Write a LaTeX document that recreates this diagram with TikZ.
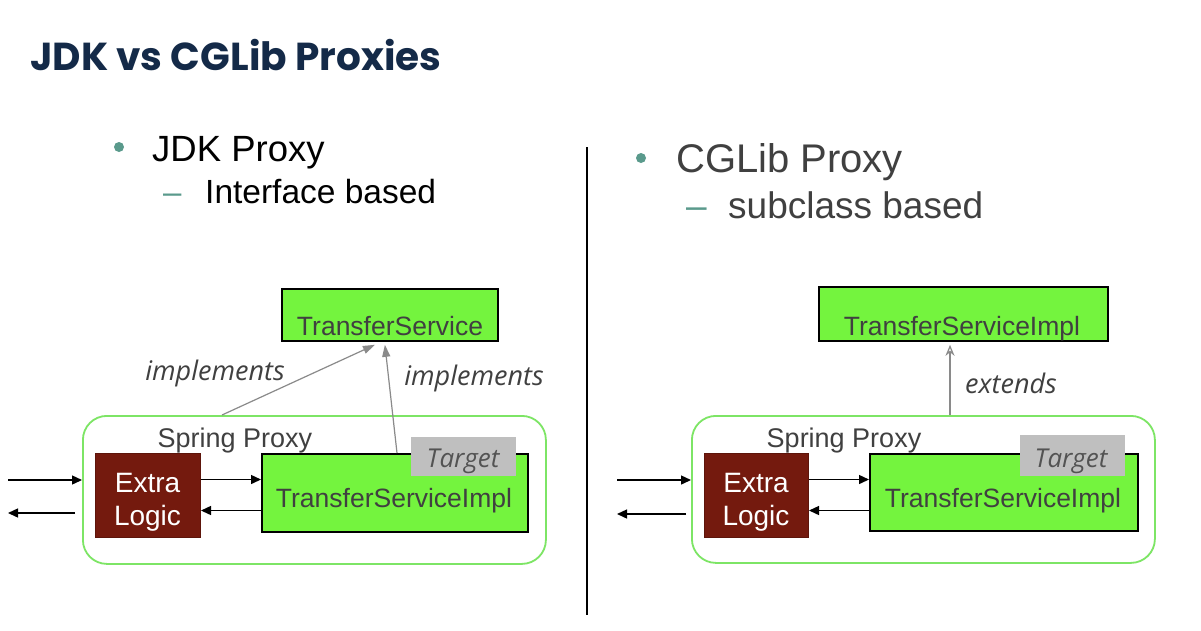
\documentclass[tikz,border=0pt]{standalone}
\usepackage{fontspec}
\setmainfont{Liberation Sans}
\newfontfamily\titlefont{Poppins}
\newfontfamily\labfont{Open Sans}
\usetikzlibrary{arrows.meta}
\definecolor{navy}{HTML}{142A48}
\definecolor{bteal}{HTML}{5A9A8C}
\definecolor{boxgreen}{HTML}{74F43E}
\definecolor{proxygreen}{HTML}{7DE565}
\definecolor{darkred}{HTML}{741A0E}
\definecolor{tgray}{HTML}{BFBFBF}
\definecolor{dtext}{HTML}{404040}
\definecolor{agray}{HTML}{8A8A8A}
\tikzset{
  gbox/.style={draw=black, line width=1.8pt, fill=boxgreen, inner sep=0, anchor=north west},
  proxybox/.style={draw=proxygreen, line width=1.8pt, rounded corners=24pt, inner sep=0, anchor=north west},
  elbox/.style={draw=darkred!80!black, line width=1pt, fill=darkred, inner sep=0, anchor=north west},
  eltext/.style={text=white, align=center, inner sep=0, font=\fontsize{28}{33}\selectfont},
  tbox/.style={fill=tgray, inner sep=0, anchor=north west},
  tlab/.style={font=\labfont\itshape\fontsize{26}{30}\selectfont, text=dtext!90!white, inner sep=0},
  dlab/.style={font=\fontsize{26.5}{30}\selectfont, text=dtext, inner sep=0, anchor=base},
  sptext/.style={font=\fontsize{27}{30}\selectfont, text=dtext, inner sep=0, anchor=base},
  rel/.style={font=\labfont\itshape\fontsize{27}{30}\selectfont, text=dtext, inner sep=0},
  blk/.style={draw=black, line width=1.4pt, -{Triangle[length=10pt,width=9pt]}},
  gry/.style={draw=agray, line width=1.2pt, -{Triangle[length=12pt,width=8pt]}},
  gryopen/.style={draw=agray, line width=1.2pt, -{Stealth[length=11pt,width=9pt,open]}},
  bul/.style={circle, fill=bteal, minimum size=10pt, inner sep=0},
}
\begin{document}
\begin{tikzpicture}[x=1pt,y=-1pt]
\useasboundingbox[fill=white] (0,0) rectangle (1201,630);

% title
\node[anchor=base west, font=\titlefont\bfseries\fontsize{39}{42}\selectfont, text=navy, inner sep=0] (title) at (30,70) {JDK vs CGLib Proxies};

% left bullets
\node[bul] (b1) at (119,147) {};
\node[anchor=base west, font=\fontsize{36.5}{40}\selectfont, text=black, inner sep=0] (jdk) at (152,161) {JDK Proxy};
\node[anchor=base west, font=\fontsize{33}{40}\selectfont, text=bteal, inner sep=0] (d1) at (163,203) {–};
\node[anchor=base west, font=\fontsize{33.5}{40}\selectfont, text=black, inner sep=0] (ib) at (205,203) {Interface based};

% right bullets
\node[bul] (b2) at (641,158) {};
\node[anchor=base west, font=\fontsize{40}{44}\selectfont, text=dtext, inner sep=0] (cg) at (676,172) {CGLib Proxy};
\node[anchor=base west, font=\fontsize{37}{40}\selectfont, text=bteal, inner sep=0] (d2) at (686,218) {–};
\node[anchor=base west, font=\fontsize{37}{40}\selectfont, text=dtext, inner sep=0] (sb) at (728,218) {subclass based};

% divider
\draw[black, line width=1.2pt] (587,147) -- (587,615);

% ===== left diagram =====
\node[gbox, minimum width=216pt, minimum height=52pt] (ts) at (281,288) {};
\node[dlab] (tslab) at (390,335) {TransferService};
\node[proxybox, minimum width=463pt, minimum height=148pt] (px1) at (82,415) {};
\node[sptext] (sp1) at (235,447) {Spring Proxy};
\node[elbox, minimum width=105pt, minimum height=84pt] (el1) at (95,453) {};
\node[eltext] (el1lab) at (147.5,502) {Extra\\Logic};
\node[gbox, minimum width=266pt, minimum height=78pt] (im1) at (261,453) {};
\node[dlab] (im1lab) at (394,507) {TransferServiceImpl};
\node[tbox, minimum width=105pt, minimum height=39pt] (tg1) at (411,437) {};
\node[tlab] (tg1lab) at (463,461) {Target};

\coordinate (in1) at (8,480);
\coordinate (out1) at (8,513);
\draw[blk] (in1) -- (in1 -| px1.west);
\draw[blk] ([xshift=-7pt]out1 -| px1.west) -- (out1);
\draw[blk] ([yshift=16pt]el1.east) coordinate (a1) -- (a1 -| im1.west);
\draw[blk] ([yshift=-15pt]el1.east) coordinate (r1) ++(0,0) (r1 -| im1.west) -- (r1);

\draw[gry] ([xshift=140pt]px1.north west) -- ([xshift=-15pt,yshift=-3pt]ts.south);
\draw[gry] ([xshift=136pt]im1.north west) -- ([xshift=-5pt,yshift=-3pt]ts.south);
\node[rel] (imp1) at (215,373) {implements};
\node[rel] (imp2) at (474,378) {implements};

% ===== right diagram =====
\node[gbox, minimum width=289pt, minimum height=54pt] (tsi) at (818,286) {};
\node[dlab] (tsilab) at (962,335) {TransferServiceImpl};
\node[proxybox, minimum width=463pt, minimum height=147pt] (px2) at (691,415) {};
\node[sptext] (sp2) at (844,447) {Spring Proxy};
\node[elbox, minimum width=104pt, minimum height=84pt] (el2) at (704,453) {};
\node[eltext] (el2lab) at (756,502) {Extra\\Logic};
\node[gbox, minimum width=268pt, minimum height=77pt] (im2) at (869,453) {};
\node[dlab] (im2lab) at (1003,507) {TransferServiceImpl};
\node[tbox, minimum width=105pt, minimum height=41pt] (tg2) at (1020,435) {};
\node[tlab] (tg2lab) at (1071,461) {Target};

\coordinate (in2) at (617,480);
\coordinate (out2) at (617,514);
\draw[blk] (in2) -- (in2 -| px2.west);
\draw[blk] ([xshift=-5pt]out2 -| px2.west) -- (out2);
\draw[blk] ([yshift=16pt]el2.east) coordinate (a2) -- (a2 -| im2.west);
\draw[blk] ([yshift=-15pt]el2.east) coordinate (r2) ++(0,0) (r2 -| im2.west) -- (r2);

\draw[gryopen] ([xshift=259pt]px2.north west) coordinate (e0) -- ([yshift=-3pt]e0 |- tsi.south);
\node[rel] (ext) at (1011,383) {extends};
\end{tikzpicture}
\end{document}
